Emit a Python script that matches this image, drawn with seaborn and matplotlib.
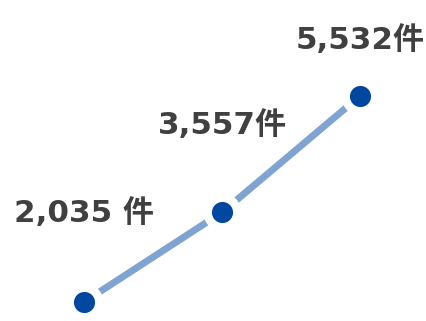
import matplotlib
matplotlib.use("Agg")
import matplotlib.pyplot as plt
import seaborn as sns
import pandas as pd

# Data
categories = ["A", "B", "C"]
values = [2035, 3557, 5532]
labels = ["2,035 件", "3,557件", "5,532件"]

sns.set_style("white")
plt.rcParams['font.family'] = ['DejaVu Sans', 'Noto Sans CJK JP']

df = pd.DataFrame({"x": range(len(categories)), "y": values})

fig = plt.figure(figsize=(4.27, 3.21), dpi=100)
ax = fig.add_axes([0, 0, 1, 1])

sns.lineplot(data=df, x="x", y="y", ax=ax, color="#7fa4d2", linewidth=5,
             solid_capstyle="butt", zorder=1)
sns.scatterplot(data=df, x="x", y="y", ax=ax, color="white", s=27.5**2,
                linewidth=0, zorder=2)
sns.scatterplot(data=df, x="x", y="y", ax=ax, color="#0047a0", s=15.2**2,
                linewidth=0, zorder=3)

offsets_px = [89, 87, 56]
for xi, yi, lab, off in zip(df["x"], df["y"], labels, offsets_px):
    ax.annotate(lab, (xi, yi), xytext=(0, off), textcoords="offset pixels",
                ha="center", va="center", fontsize=22.3, fontweight="bold",
                color="#404040", family=['DejaVu Sans', 'Noto Sans CJK JP'])

ax.set_xlim(-0.6087, 2.4855)
ax.set_ylim(1712.5, 7161.7)
ax.axis("off")

fig.savefig("out.png", dpi=100)
